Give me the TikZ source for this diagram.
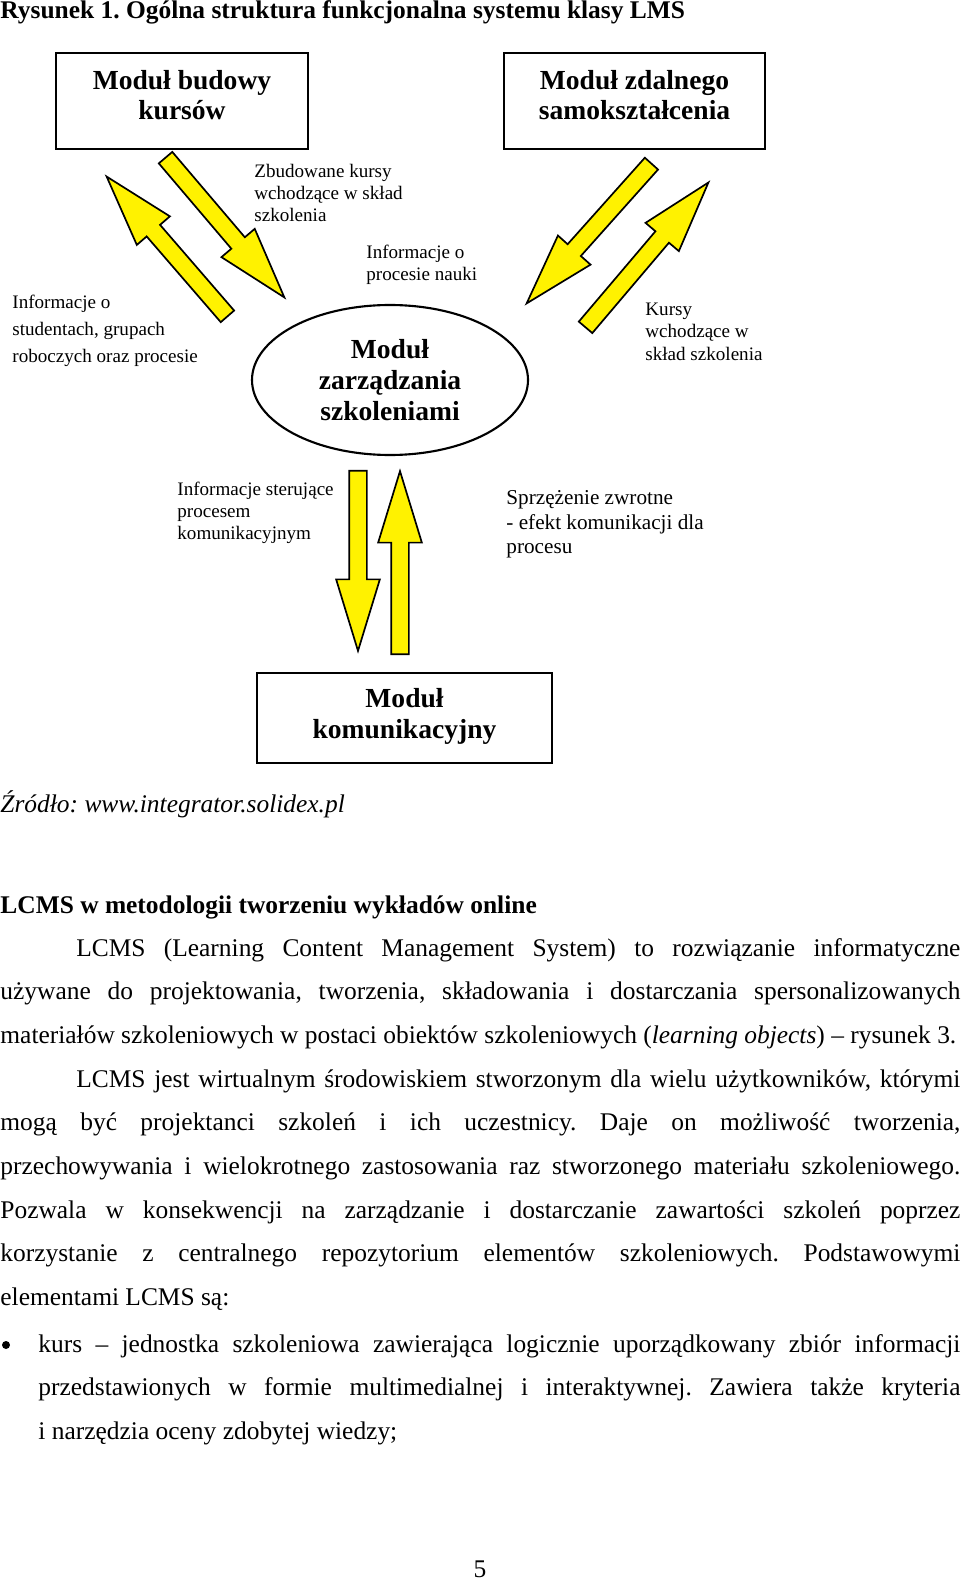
\documentclass[tikz,border=0pt]{standalone}
\usepackage{fontspec}
\setmainfont{Liberation Serif}
\usetikzlibrary{shapes.geometric,shapes.arrows,calc}
\frenchspacing
\newlength\pxu
\setlength\pxu{0.4717pt}
% yellow block arrow from tail #2 to tip #3
\newcommand{\yarrow}[3]{%
 \path let \p1=#2, \p2=#3 in
  node[yarrow,anchor=tail,rotate={atan2(\y2-\y1,\x2-\x1)},
   minimum height={veclen(\x2-\x1,\y2-\y1)}] (#1) at #2 {};}

\begin{document}
\begin{tikzpicture}[x=0.4717pt,y=-0.4717pt,
 module/.style={rectangle,draw,line width=1pt,inner sep=0pt,align=center,
  font=\fontsize{13pt}{14.6pt}\selectfont\bfseries},
 mgmt/.style={ellipse,draw,line width=1pt,inner sep=0pt,align=center,
  font=\fontsize{13pt}{14.6pt}\selectfont\bfseries},
 note/.style={anchor=north west,inner sep=0pt,align=left,
  font=\fontsize{9pt}{10.4pt}\selectfont},
 body/.style={inner sep=0pt,align=justify,font=\fontsize{12pt}{20.6pt}\selectfont},
 yarrow/.style={single arrow,draw,fill=yellow,line width=0.8pt,
  inner xsep=0pt,inner ysep=8\pxu,single arrow head extend=13\pxu,
  single arrow tip angle=34}]
 \useasboundingbox (0,0) rectangle (960,1582);
 \node[anchor=base west,inner sep=0pt,font=\fontsize{12pt}{14pt}\selectfont\bfseries]
  (tytul) at (0,19) {Rysunek 1. Ogólna struktura funkcjonalna systemu klasy LMS};
 % modules
 \node[module,minimum width=252\pxu,minimum height=96\pxu,text depth=5.7pt] (budowa) at (182,101) {Moduł budowy\\kursów};
 \node[module,minimum width=261\pxu,minimum height=96\pxu,text depth=5.7pt] (zdalne) at (634.5,101) {Moduł zdalnego\\samokształcenia};
 \node[mgmt,minimum width=276\pxu,minimum height=150\pxu] (zarzadzanie) at (390,380) {Moduł\\zarządzania\\szkoleniami};
 \node[module,minimum width=295\pxu,minimum height=90\pxu,text depth=4.7pt] (komunikacja) at (404.5,718) {Moduł\\komunikacyjny};
 % arrows
 \yarrow{infoL}{(228,317)}{(107,177)}
 \yarrow{kursyL}{(165,157)}{(284,297)}
 \yarrow{kursyR}{(652,163)}{(527,303)}
 \yarrow{infoR}{(585,328)}{(708,183)}
 \yarrow{sterD}{(358,470)}{(358,650)}
 \yarrow{zwrotU}{(400,655)}{(400,472)}
 % labels
 \node[note] (zbud) at (254,164) {Zbudowane kursy\\wchodzące w skład\\szkolenia};
 \node[note] (nauka) at (366,245) {Informacje o\\procesie nauki};
 \node[note,font=\fontsize{9pt}{12.7pt}\selectfont] (studenci) at (12,295) {Informacje o\\studentach, grupach\\roboczych oraz procesie};
 \node[note] (wklad) at (645,303) {Kursy\\wchodzące w\\skład szkolenia};
 \node[note] (sterujace) at (177,482) {Informacje sterujące\\procesem\\komunikacyjnym};
 \node[note,font=\fontsize{10pt}{11.65pt}\selectfont] (sprzezenie) at (506,490) {Sprzężenie zwrotne\\- efekt komunikacji dla\\procesu};
 \node[anchor=base west,inner sep=0pt,font=\fontsize{12pt}{14pt}\selectfont\itshape]
  (zrodlo) at (0,812) {Źródło: www.integrator.solidex.pl};
 % page text
 \node[body,anchor=base west,font=\fontsize{12pt}{14pt}\selectfont\bfseries]
  (naglowek) at (0,913) {LCMS w metodologii tworzeniu wykładów online};
 \node[body,anchor=base west,text width=960\pxu] (akapit1) at (0,956)
  {\hspace*{35.8pt}LCMS (Learning Content Management System) to rozwiązanie informatyczne\linebreak
  używane do projektowania, tworzenia, składowania i dostarczania spersonalizowanych\linebreak
  materiałów szkoleniowych w postaci obiektów szkoleniowych (\textit{learning objects}) – rysunek 3.};
 \node[body,anchor=base west,text width=960\pxu] (akapit2) at (0,1087)
  {\hspace*{35.8pt}LCMS jest wirtualnym środowiskiem stworzonym dla wielu użytkowników, którymi\linebreak
  mogą być projektanci szkoleń i ich uczestnicy. Daje on możliwość tworzenia,\linebreak
  przechowywania i wielokrotnego zastosowania raz stworzonego materiału szkoleniowego.\linebreak
  Pozwala w konsekwencji na zarządzanie i dostarczanie zawartości szkoleń poprzez\linebreak
  korzystanie z centralnego repozytorium elementów szkoleniowych. Podstawowymi\linebreak
  elementami LCMS są:};
 \node[circle,fill,inner sep=0pt,minimum size=8\pxu] (kropka) at (6,1345) {};
 \node[body,anchor=base west,text width=922\pxu] (kurs) at (38,1352)
  {kurs – jednostka szkoleniowa zawierająca logicznie uporządkowany zbiór informacji\linebreak
  przedstawionych w formie multimedialnej i interaktywnej. Zawiera także kryteria\linebreak
  i narzędzia oceny zdobytej wiedzy;};
 \node[body,anchor=base] (strona) at (480,1577) {5};
\end{tikzpicture}
\end{document}
